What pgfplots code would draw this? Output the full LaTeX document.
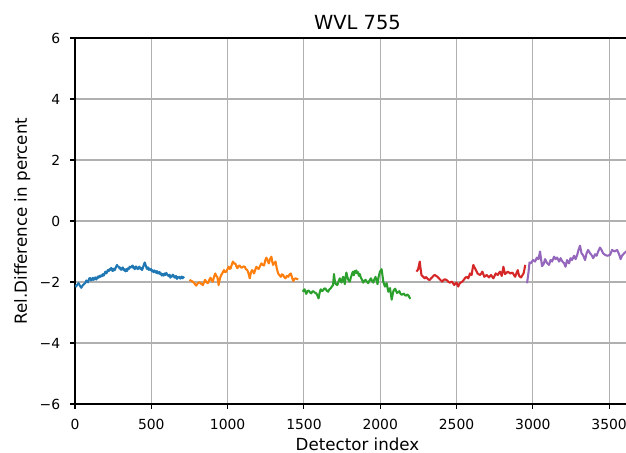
\documentclass[border=0pt]{standalone}
\usepackage{fontspec}
\setmainfont{DejaVu Sans}
\usepackage{pgfplots}
\pgfplotsset{compat=1.18}

\definecolor{cA}{HTML}{1F77B4}
\definecolor{cB}{HTML}{FF7F0E}
\definecolor{cC}{HTML}{2CA02C}
\definecolor{cD}{HTML}{D62728}
\definecolor{cE}{HTML}{9467BD}
\definecolor{gridgray}{HTML}{B0B0B0}

\begin{document}
\begin{tikzpicture}
\begin{axis}[
  at={(54pt,35.28pt)}, anchor=south west,
  scale only axis, width=406.8pt, height=263.52pt,
  xmin=0, xmax=3702, ymin=-6, ymax=6,
  xtick={0,500,...,3500}, ytick={-6,-4,...,6},
  yticklabels={−6,−4,−2,0,2,4,6},
  /pgf/number format/assume math mode=true,
  /pgf/number format/set thousands separator={},
  xtick pos=left, ytick pos=left,
  grid=major, grid style={color=gridgray, line width=0.8pt},
  axis line style={line width=0.8pt, black},
  tick align=outside, major tick length=3.5pt,
  tick style={line width=0.8pt, black},
  ticklabel style={font=\fontsize{10}{12}\selectfont, inner sep=0pt},
  xticklabel style={anchor=north, yshift=-7pt},
  yticklabel style={anchor=east, xshift=-7pt},
  title={WVL 755},
  every axis title/.style={at={(axis description cs:0.5,1.0228)}, anchor=base, inner sep=0pt, font=\fontsize{14}{16}\selectfont},
  xlabel={Detector index},
  xlabel style={at={(axis description cs:0.5,-0.1284)}, anchor=base, inner sep=0pt, font=\fontsize{12}{14}\selectfont},
  ylabel={Rel.Difference in percent},
  ylabel style={at={(axis description cs:-0.08496,0.5)}, anchor=base, inner sep=0pt, font=\fontsize{12}{14}\selectfont},
  every axis plot/.append style={line width=1.5pt, line join=round, mark=none},
]
% detector module 1
\addplot[cA] coordinates {
(0,-2.10) (7,-2.15) (15,-2.09) (24,-2.04) (32,-2.12) (41,-2.19) (49,-2.12) (57,-2.08)
(68,-2.03) (74,-1.95) (79,-1.99) (85,-2.01) (90,-1.93) (95,-1.87) (100,-1.88) (106,-1.95) (111,-1.92)
(117,-1.86) (122,-1.93) (128,-1.89) (133,-1.85) (139,-1.92) (144,-1.88)
(150,-1.82) (155,-1.86) (160,-1.80) (166,-1.83) (171,-1.78) (177,-1.81) (183,-1.74) (188,-1.79) (194,-1.72)
(199,-1.66) (205,-1.72) (210,-1.68) (215,-1.61) (221,-1.64) (227,-1.58)
(232,-1.60) (237,-1.54) (242,-1.57) (246,-1.64) (251,-1.62) (256,-1.56) (260,-1.61) (268,-1.52) (275,-1.44)
(281,-1.50) (286,-1.49) (292,-1.56) (297,-1.53) (302,-1.60)
(308,-1.57) (313,-1.52) (319,-1.61) (325,-1.58) (330,-1.65) (336,-1.58) (341,-1.64) (346,-1.55) (352,-1.58)
(358,-1.50) (363,-1.53) (370,-1.50) (378,-1.46) (382,-1.54)
(386,-1.51) (391,-1.58) (395,-1.55) (400,-1.49) (406,-1.53) (411,-1.58) (417,-1.53) (422,-1.50) (428,-1.57)
(434,-1.54) (439,-1.61) (444,-1.55) (448,-1.48) (457,-1.36)
(465,-1.48) (469,-1.54) (472,-1.57) (478,-1.52) (483,-1.60) (489,-1.56) (494,-1.61) (500,-1.58) (505,-1.65)
(510,-1.62) (515,-1.68) (521,-1.62) (526,-1.66) (532,-1.70) (537,-1.64)
(543,-1.72) (548,-1.70) (554,-1.67) (559,-1.75) (565,-1.72) (570,-1.79) (576,-1.74) (581,-1.79) (587,-1.72)
(592,-1.77) (598,-1.70) (603,-1.75) (609,-1.78) (614,-1.81) (620,-1.76) (625,-1.86)
(631,-1.80) (636,-1.82) (641,-1.76) (646,-1.79) (652,-1.86) (657,-1.85) (662,-1.80) (668,-1.90) (672,-1.84)
(676,-1.86) (684,-1.83) (690,-1.89) (695,-1.86) (700,-1.82) (705,-1.88) (710,-1.84)
(715,-1.87)
};
% detector module 2
\addplot[cB] coordinates {
(750,-1.93) (761,-1.96) (772,-1.99) (783,-2.05) (794,-2.12) (805,-2.04) (816,-2.01) (827,-2.06)
(838,-2.10) (846,-2.00) (853,-1.93) (862,-2.01) (871,-2.04) (880,-1.93) (888,-1.86) (896,-1.95)
(903,-1.99) (911,-1.83) (919,-1.72) (926,-1.80) (932,-1.83) (937,-1.95) (941,-2.10) (950,-1.88)
(958,-1.77) (967,-1.70) (976,-1.61) (984,-1.68) (991,-1.66) (999,-1.58) (1007,-1.50) (1014,-1.57)
(1020,-1.55) (1028,-1.42) (1035,-1.33) (1043,-1.40) (1050,-1.39) (1057,-1.48) (1064,-1.55) (1072,-1.47)
(1079,-1.46) (1087,-1.52) (1094,-1.53) (1103,-1.49) (1112,-1.50) (1120,-1.58) (1129,-1.61) (1137,-1.72)
(1145,-1.88) (1152,-1.70) (1160,-1.61) (1166,-1.65) (1173,-1.72) (1181,-1.60) (1189,-1.50) (1196,-1.55)
(1204,-1.57) (1212,-1.48) (1221,-1.39) (1230,-1.44) (1239,-1.46) (1246,-1.30) (1254,-1.20) (1262,-1.30)
(1270,-1.39) (1278,-1.25) (1287,-1.17) (1292,-1.32) (1298,-1.44) (1306,-1.38) (1314,-1.33) (1322,-1.55)
(1331,-1.72) (1340,-1.78) (1349,-1.83) (1356,-1.75) (1364,-1.77) (1371,-1.84) (1379,-1.88) (1388,-1.80)
(1397,-1.83) (1405,-1.76) (1414,-1.72) (1422,-1.85) (1430,-1.97) (1438,-1.90) (1445,-1.88) (1454,-1.90)
(1463,-1.91)
};
% detector module 3
\addplot[cC] coordinates {
(1493,-2.32) (1499,-2.26) (1504,-2.24) (1510,-2.33) (1515,-2.39) (1523,-2.30) (1531,-2.28) (1540,-2.34)
(1548,-2.37) (1557,-2.30) (1566,-2.32) (1574,-2.36) (1581,-2.37) (1589,-2.45) (1596,-2.54) (1603,-2.35)
(1610,-2.24) (1618,-2.30) (1625,-2.28) (1632,-2.22) (1640,-2.21) (1649,-2.28) (1658,-2.32) (1666,-2.25)
(1675,-2.21) (1683,-2.15) (1691,-2.10) (1697,-1.74) (1702,-1.95) (1706,-2.04) (1712,-2.08) (1719,-2.10)
(1727,-1.98) (1735,-1.88) (1741,-1.96) (1746,-2.02) (1752,-1.90) (1757,-1.83) (1763,-1.96) (1768,-2.07)
(1773,-1.85) (1778,-1.69) (1784,-1.82) (1789,-1.91) (1795,-1.96) (1800,-1.99) (1806,-1.88) (1811,-1.80)
(1816,-1.72) (1822,-1.66) (1827,-1.78) (1833,-1.64) (1838,-1.70) (1843,-1.62) (1849,-1.72) (1855,-1.68)
(1860,-1.80) (1866,-1.74) (1873,-1.86)
(1880,-1.92) (1888,-2.02) (1896,-1.96) (1904,-1.93) (1912,-1.99) (1921,-2.04) (1930,-1.95) (1939,-1.88)
(1946,-1.96) (1954,-2.02) (1961,-1.92) (1969,-1.83) (1976,-1.95) (1982,-2.07) (1990,-1.82) (1998,-1.66)
(2009,-1.58) (2015,-1.80) (2020,-1.99) (2026,-2.08) (2031,-2.15) (2037,-2.09) (2042,-2.04) (2048,-2.20)
(2053,-2.32) (2059,-2.25) (2064,-2.20) (2070,-2.40) (2075,-2.58) (2081,-2.42) (2086,-2.30) (2092,-2.25)
(2098,-2.22) (2104,-2.30) (2110,-2.36) (2118,-2.33) (2125,-2.30) (2132,-2.38) (2140,-2.42) (2148,-2.40)
(2155,-2.38) (2162,-2.43) (2170,-2.45) (2177,-2.41) (2185,-2.44) (2191,-2.50) (2197,-2.55)
};
% detector module 4
\addplot[cD] coordinates {
(2237,-1.66) (2248,-1.59) (2259,-1.33) (2264,-1.55) (2270,-1.77) (2276,-1.80) (2281,-1.83) (2287,-1.86)
(2292,-1.88) (2298,-1.84) (2303,-1.85) (2309,-1.89) (2314,-1.91) (2320,-1.93) (2325,-1.93) (2333,-1.88)
(2340,-1.85) (2348,-1.80) (2357,-1.77) (2366,-1.80) (2375,-1.83) (2383,-1.87) (2390,-1.91) (2398,-1.95)
(2406,-1.99) (2414,-1.94) (2423,-1.91) (2432,-1.93) (2441,-1.96) (2448,-2.00) (2456,-2.02) (2464,-2.00)
(2471,-1.99) (2478,-2.05) (2485,-2.10) (2492,-2.06) (2500,-2.02) (2505,-2.09) (2511,-2.15) (2517,-2.08)
(2522,-2.04) (2530,-2.01) (2537,-1.99) (2544,-1.95) (2550,-1.91) (2558,-1.86) (2566,-1.83) (2572,-1.86)
(2577,-1.88) (2583,-1.80) (2588,-1.72) (2594,-1.75) (2599,-1.77) (2604,-1.60) (2610,-1.44) (2615,-1.50)
(2621,-1.55) (2630,-1.64) (2638,-1.72) (2646,-1.75) (2654,-1.77) (2662,-1.72) (2669,-1.66) (2676,-1.75)
(2682,-1.83) (2690,-1.80) (2697,-1.77) (2705,-1.81) (2713,-1.85) (2720,-1.80) (2726,-1.77) (2734,-1.83)
(2741,-1.88) (2749,-1.80) (2757,-1.72) (2764,-1.75) (2770,-1.77) (2778,-1.70) (2785,-1.66) (2791,-1.74)
(2796,-1.80) (2802,-1.65) (2807,-1.50) (2812,-1.62) (2818,-1.74) (2827,-1.70) (2836,-1.66) (2844,-1.69)
(2851,-1.72) (2859,-1.71) (2866,-1.69) (2875,-1.76) (2884,-1.83) (2892,-1.72) (2901,-1.61) (2906,-1.72)
(2910,-1.80) (2917,-1.83) (2923,-1.85) (2931,-1.78) (2939,-1.72) (2945,-1.58) (2950,-1.44)
};
% detector module 5
\addplot[cE] coordinates {
(2962,-2.04) (2972,-1.66) (2978,-1.36) (2988,-1.38) (3001,-1.28) (3014,-1.33) (3027,-1.20) (3037,-1.25)
(3047,-1.00) (3060,-1.48) (3070,-1.42) (3080,-1.25) (3093,-1.38) (3106,-1.44) (3116,-1.28) (3126,-1.33)
(3139,-1.17) (3149,-1.25) (3159,-1.20) (3172,-1.33) (3182,-1.22) (3191,-1.31) (3205,-1.39) (3214,-1.50)
(3224,-1.28) (3237,-1.39) (3247,-1.22) (3257,-1.28) (3270,-1.14) (3280,-1.25) (3290,-1.12) (3299,-0.95)
(3309,-0.81) (3319,-1.06) (3329,-1.12) (3342,-1.28) (3352,-1.06) (3362,-0.95) (3375,-1.06) (3385,-1.12)
(3395,-1.22) (3408,-1.09) (3418,-1.14) (3428,-1.00) (3440,-0.87) (3450,-0.95) (3460,-1.06) (3476,-1.12)
(3490,-1.14) (3506,-1.11) (3519,-0.95) (3535,-1.00) (3552,-0.95) (3565,-1.09) (3575,-1.25) (3584,-1.14)
(3598,-1.06) (3611,-1.00) (3624,-1.08) (3637,-1.05) (3650,-1.12) (3663,-1.02) (3676,-1.06) (3690,-1.10)
};
\end{axis}
\pgfresetboundingbox
\useasboundingbox (0,0) rectangle (450.72pt,326.16pt);
\end{tikzpicture}
\end{document}
